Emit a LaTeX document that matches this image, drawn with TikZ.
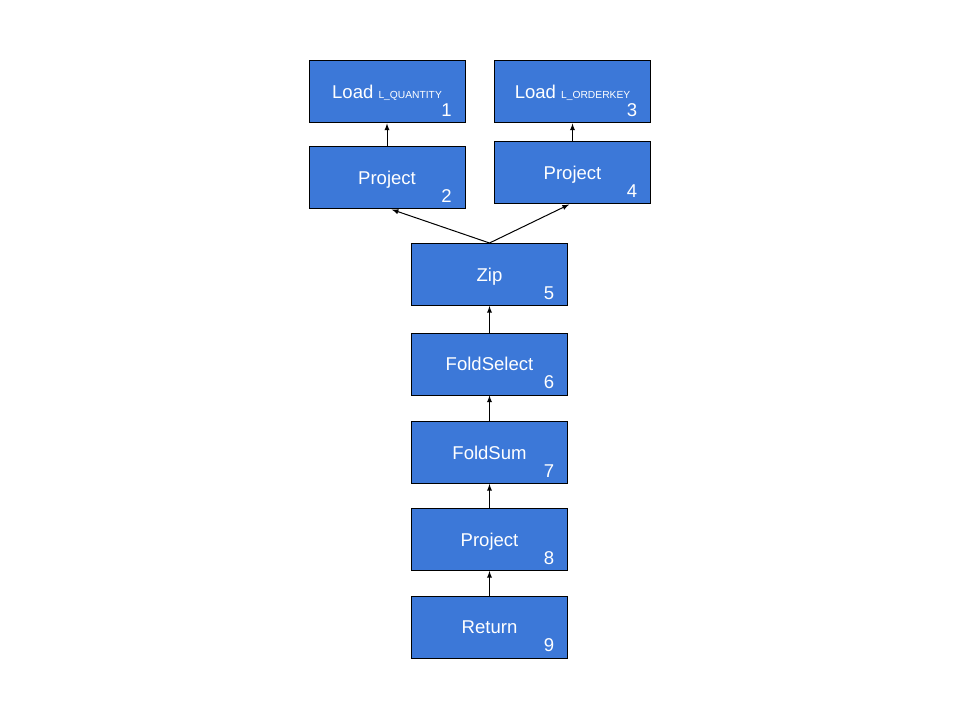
\documentclass[tikz,border=0pt]{standalone}
\usepackage{fontspec}
\setmainfont{Liberation Sans}
\usetikzlibrary{arrows}
\begin{document}
\begin{tikzpicture}[x=0.75pt,y=-0.75pt,
  op/.style={draw=black,line width=0.75pt,fill=opblue,text=white,minimum width=117pt,minimum height=46.5pt,inner sep=0pt,text height=10pt,text depth=0pt,font=\fontsize{13.9}{16}\selectfont},
  num/.style={text=white,inner sep=0pt,font=\fontsize{13.9}{16}\selectfont},
  flow/.style={black,line width=0.75pt,-latex}]
 \definecolor{opblue}{HTML}{3C78D8}
 \useasboundingbox (0,0) rectangle (960,720);
 \node [op] (load1) at (387,92) {Load {\fontsize{7.7}{9}\selectfont L\_QUANTITY}};
 \node [op] (load3) at (572.5,92) {Load {\fontsize{7.7}{9}\selectfont L\_ORDERKEY}};
 \node [op] (proj2) at (387,178) {Project};
 \node [op] (proj4) at (572.5,173) {Project};
 \node [op] (zip) at (489.5,274.5) {Zip};
 \node [op] (fsel) at (489.5,364) {FoldSelect};
 \node [op] (fsum) at (489.5,452.5) {FoldSum};
 \node [op] (proj8) at (489.5,539.5) {Project};
 \node [op] (ret) at (489.5,627) {Return};
 \node [num] (n1) at ([shift={(-19,-13.5)}]load1.south east) {1};
 \node [num] (n3) at ([shift={(-19,-13.5)}]load3.south east) {3};
 \node [num] (n2) at ([shift={(-19,-13)}]proj2.south east) {2};
 \node [num] (n4) at ([shift={(-19,-13)}]proj4.south east) {4};
 \node [num] (n5) at ([shift={(-19,-13)}]zip.south east) {5};
 \node [num] (n6) at ([shift={(-19,-13)}]fsel.south east) {6};
 \node [num] (n7) at ([shift={(-19,-13)}]fsum.south east) {7};
 \node [num] (n8) at ([shift={(-19,-13)}]proj8.south east) {8};
 \node [num] (n9) at ([shift={(-19,-13)}]ret.south east) {9};
 \draw [flow] (proj2.north) -- (load1.south);
 \draw [flow] (proj4.north) -- (load3.south);
 \draw [flow] (zip.north) -- ([xshift=3.5]proj2.south);
 \draw [flow] (zip.north) -- ([xshift=-2.5]proj4.south);
 \draw [flow] (fsel.north) -- (zip.south);
 \draw [flow] (fsum.north) -- (fsel.south);
 \draw [flow] (proj8.north) -- (fsum.south);
 \draw [flow] (ret.north) -- (proj8.south);
\end{tikzpicture}
\end{document}
